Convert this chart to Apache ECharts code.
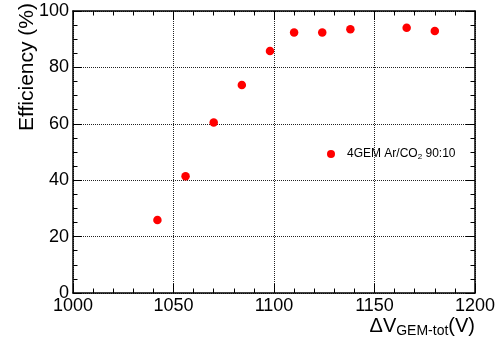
<!DOCTYPE html>
<html><head><meta charset="utf-8">
<script src="https://cdn.jsdelivr.net/npm/echarts@6/dist/echarts.min.js"></script>
<style>html,body{margin:0;padding:0;background:#fff}#c{width:504px;height:338px}</style>
</head><body><div id="c"></div>
<script>
const voltages = [1042, 1056, 1070, 1084, 1098, 1110, 1124, 1138, 1166, 1180];
const efficiency = [25.9, 41.4, 60.5, 73.8, 85.8, 92.4, 92.4, 93.5, 94.1, 92.9];
const seriesName = '4GEM Ar/CO2 90:10';
const xTicks = [1000, 1050, 1100, 1150, 1200];
const yTicks = [0, 20, 40, 60, 80, 100];

const FONT = '"Liberation Sans", Arial, sans-serif';
const chart = echarts.init(document.getElementById('c'), null, {renderer: 'canvas'});
const axLine = {show: true, onZero: false, lineStyle: {color: '#000', width: 1.5}};
const grid = {show: true, type: 'dotted', color: '#222', width: 1};
function xAx(pos, labels) {
  return {
    type: 'value', position: pos, min: xTicks[0], max: xTicks[xTicks.length - 1], interval: 50,
    axisLine: axLine,
    axisTick: {show: true, inside: true, length: 9, lineStyle: {color: '#000', width: 1}},
    minorTick: {show: true, splitNumber: 5, length: 4.5, lineStyle: {color: '#000', width: 1}},
    axisLabel: {show: labels, fontFamily: FONT, fontSize: 18, color: '#000', margin: 4,
      formatter: v => String(v)},
    splitLine: labels ? {show: true, lineStyle: grid} : {show: false},
    minorSplitLine: {show: false}
  };
}
function yAx(pos, labels) {
  return {
    type: 'value', position: pos, min: yTicks[0], max: yTicks[yTicks.length - 1], interval: 20,
    axisLine: axLine,
    axisTick: {show: true, inside: true, length: 9, lineStyle: {color: '#000', width: 1}},
    minorTick: {show: true, splitNumber: 4, length: 4.5, lineStyle: {color: '#000', width: 1}},
    axisLabel: {show: labels, fontFamily: FONT, fontSize: 18, color: '#000', margin: 4,
      formatter: v => String(v)},
    splitLine: labels ? {show: true, lineStyle: grid} : {show: false},
    minorSplitLine: {show: false}
  };
}
chart.setOption({
  animation: false,
  backgroundColor: '#fff',
  grid: {left: 73, right: 29, top: 11, bottom: 45, containLabel: false},
  xAxis: [xAx('bottom', true), xAx('top', false)],
  yAxis: [yAx('left', true), yAx('right', false)],
  legend: {
    left: 322, top: 143, itemWidth: 8, itemHeight: 8, itemGap: 0,
    icon: 'circle',
    formatter: () => '4GEM Ar/CO{sub|2} 90:10',
    textStyle: {fontFamily: FONT, fontSize: 12, color: '#000', padding: [0,0,0,7],
      rich: {sub: {fontFamily: FONT, fontSize: 8, color: '#000', verticalAlign: 'bottom', padding: [6,0,0,0]}}},
    data: [seriesName]
  },
  series: [{
    name: seriesName, type: 'scatter', xAxisIndex: 0, yAxisIndex: 0,
    symbol: 'circle', symbolSize: 8.5,
    itemStyle: {color: '#ff0000', opacity: 1},
    data: voltages.map((v, i) => [v, efficiency[i]])
  }],
  graphic: [
    {type: 'text', x: 27, y: 3, rotation: Math.PI / 2,
      style: {text: 'Efficiency (%)', fontFamily: FONT, fontSize: 21, fill: '#000', align: 'right', verticalAlign: 'middle'}},
    {type: 'text', right: 29, top: 316,
      style: {text: '{b|ΔV}{s|GEM-tot}{b|(V)}', fontFamily: FONT, fill: '#000',
        rich: {b: {fontFamily: FONT, fontSize: 20, color: '#000'},
               s: {fontFamily: FONT, fontSize: 14, color: '#000', verticalAlign: 'bottom', padding: [10,0,0,0]}}}}
  ]
});
</script></body></html>
